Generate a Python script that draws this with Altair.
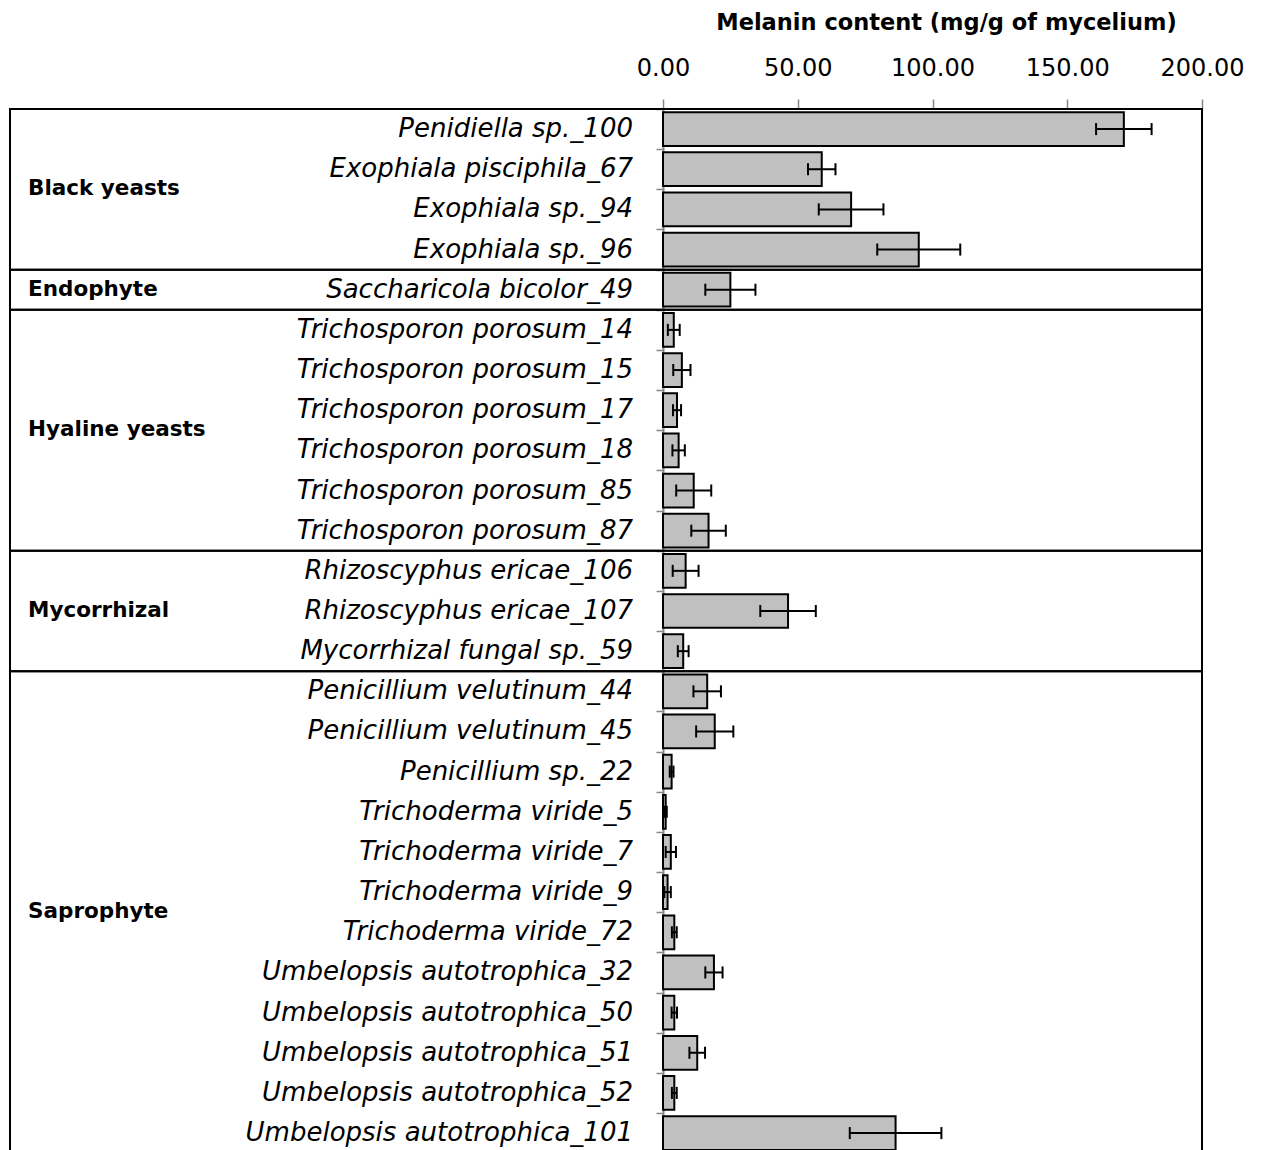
import altair as alt
import pandas as pd

species = [
    "Penidiella sp._100", "Exophiala pisciphila_67", "Exophiala sp._94", "Exophiala sp._96",
    "Saccharicola bicolor_49",
    "Trichosporon porosum_14", "Trichosporon porosum_15", "Trichosporon porosum_17",
    "Trichosporon porosum_18", "Trichosporon porosum_85", "Trichosporon porosum_87",
    "Rhizoscyphus ericae_106", "Rhizoscyphus ericae_107", "Mycorrhizal fungal sp._59",
    "Penicillium velutinum_44", "Penicillium velutinum_45", "Penicillium sp._22",
    "Trichoderma viride_5", "Trichoderma viride_7", "Trichoderma viride_9", "Trichoderma viride_72",
    "Umbelopsis autotrophica_32", "Umbelopsis autotrophica_50", "Umbelopsis autotrophica_51",
    "Umbelopsis autotrophica_52", "Umbelopsis autotrophica_101",
]
means = [171.0, 58.9, 69.8, 94.9,
         25.0,
         4.0, 7.0, 5.2, 5.8, 11.4, 16.9,
         8.4, 46.4, 7.5,
         16.4, 19.2, 3.2, 1.0, 2.9, 1.7, 4.2, 18.9, 4.2, 12.7, 4.2, 86.3]
errors = [10.3, 5.1, 12.0, 15.4,
          9.3,
          2.2, 3.2, 1.5, 2.3, 6.5, 6.4,
          4.8, 10.3, 2.0,
          5.1, 6.9, 0.7, 0.4, 1.9, 1.2, 0.9, 3.2, 1.0, 2.9, 0.9, 17.0]
groups = ["Black yeasts", "Endophyte", "Hyaline yeasts", "Mycorrhizal", "Saprophyte"]
group_sizes = [4, 1, 6, 3, 12]
x_ticks = [0, 50, 100, 150, 200]
x_title = "Melanin content (mg/g of mycelium)"

FONT = "DejaVu Sans"
ROW_PX = 40.16
H = 1033
YMAX = H / ROW_PX

df = pd.DataFrame({"species": species, "mean": means, "err": errors})
df["row"] = range(len(df))
df["zero"] = 0.0
df["lo"] = df["mean"] - df["err"]
df["hi"] = df["mean"] + df["err"]
df["top"] = df["row"] + 0.08
df["bot"] = df["row"] + 0.92
df["mid"] = df["row"] + 0.5
df["cap_top"] = df["mid"] - 0.15
df["cap_bot"] = df["mid"] + 0.15

starts, ends = [], []
s = 0
for n in group_sizes:
    starts.append(s)
    ends.append(s + n)
    s += n
gdf = pd.DataFrame({"group": groups, "start": starts, "end": ends})
gdf["center"] = (gdf["start"] + gdf["end"]) / 2
gdf["xmax"] = 200.0

yscale = alt.Scale(domain=[0, YMAX], reverse=True, nice=False, zero=False)
xscale = alt.Scale(domain=[0, 200], nice=False)

xaxis = alt.Axis(orient="top", values=x_ticks, format=".2f", title=x_title,
                 titleFont=FONT, titleFontSize=22.5, titleFontWeight="bold",
                 titleColor="black", titleAlign="center", titleBaseline="middle",
                 titleX=283, titleY=-87,
                 labelFont=FONT, labelFontSize=24, labelColor="black",
                 labelPadding=19, labelFlush=False, labelOverlap=False,
                 tickSize=10, tickColor="#868686", tickWidth=1.5,
                 domain=False, grid=False)
yaxis = alt.Axis(orient="left", values=list(range(26)), labels=False, tickSize=7,
                 tickColor="#868686", tickWidth=1.5, domainColor="#868686", domainWidth=2,
                 grid=False, title="")

bars = alt.Chart(df).mark_rect(fill="#c0c0c0", stroke="black", strokeWidth=2).encode(
    x=alt.X("zero:Q", scale=xscale, axis=xaxis),
    x2="mean:Q",
    y=alt.Y("top:Q", scale=yscale, axis=yaxis),
    y2="bot:Q",
)

boxes = alt.Chart(gdf).mark_rect(fill=None, stroke="black", strokeWidth=2).encode(
    x=alt.X("xmax:Q", scale=xscale, axis=xaxis),
    x2=alt.value(-653),
    y=alt.Y("start:Q", scale=yscale, axis=yaxis),
    y2="end:Q",
)

err_line = alt.Chart(df).mark_rule(color="black", strokeWidth=2).encode(
    x=alt.X("lo:Q", scale=xscale, axis=xaxis),
    x2="hi:Q",
    y=alt.Y("mid:Q", scale=yscale, axis=yaxis),
)
cap_lo = alt.Chart(df).mark_rule(color="black", strokeWidth=2).encode(
    x=alt.X("lo:Q", scale=xscale, axis=xaxis),
    y=alt.Y("cap_top:Q", scale=yscale, axis=yaxis),
    y2="cap_bot:Q",
)
cap_hi = alt.Chart(df).mark_rule(color="black", strokeWidth=2).encode(
    x=alt.X("hi:Q", scale=xscale, axis=xaxis),
    y=alt.Y("cap_top:Q", scale=yscale, axis=yaxis),
    y2="cap_bot:Q",
)

labels = alt.Chart(df).mark_text(align="right", baseline="middle", font=FONT,
                                 fontStyle="italic", fontSize=26, color="black").encode(
    x=alt.value(-30),
    y=alt.Y("mid:Q", scale=yscale, axis=yaxis),
    text="species:N",
)

glabels = alt.Chart(gdf).mark_text(align="left", baseline="middle", font=FONT,
                                   fontWeight="bold", fontSize=21.5, color="black").encode(
    x=alt.value(-635),
    y=alt.Y("center:Q", scale=yscale, axis=yaxis),
    text="group:N",
)

chart = alt.layer(bars, boxes, err_line, cap_lo, cap_hi, labels, glabels).properties(
    width=539, height=H,
    autosize=alt.AutoSizeParams(type="none"),
    padding={"left": 655, "top": 101, "right": 44, "bottom": 8},
).configure_view(stroke=None)

chart.save("out.html", embed_options={"renderer": "svg", "actions": False})
